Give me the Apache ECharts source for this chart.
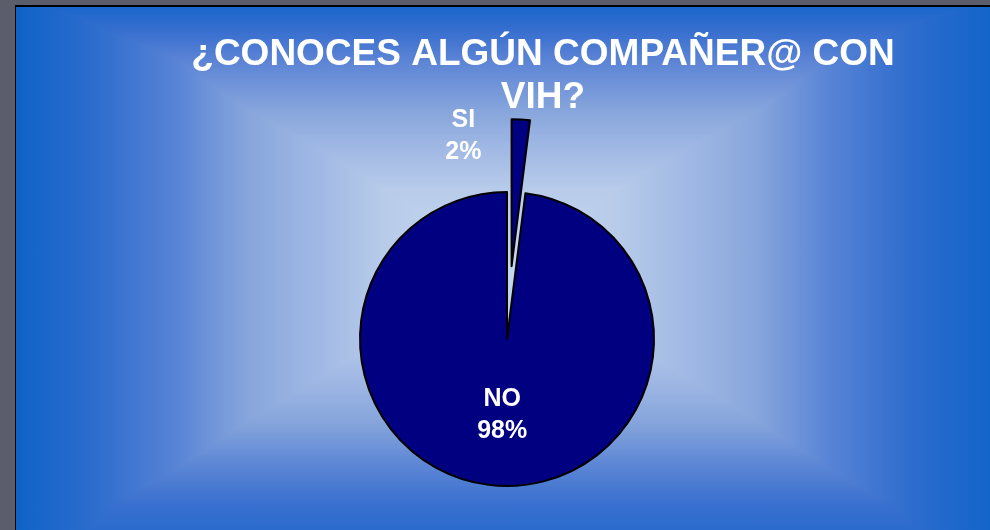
<!DOCTYPE html>
<html>
<head>
<meta charset="utf-8">
<script src="https://cdn.jsdelivr.net/npm/echarts@6/dist/echarts.min.js"></script>
<style>
  html, body { margin: 0; padding: 0; background: #5b5d6b; }
  #frame {
    position: absolute; left: 15px; top: 5px; width: 975px; height: 525px;
    box-sizing: border-box; border-left: 1px solid #000; border-top: 2px solid #000;
    background:
      linear-gradient(to right, #0e63c8 0%, #2d6ccd 8%, #5582d6 16%, #88a6dc 24%, #a0b8e4 31%,
        #b8ccea 38%, #c6d9f1 49.7%, #b8ccea 61.5%, #a0b8e4 69%, #88a6dc 76%, #5582d6 84%,
        #2d6ccd 92%, #1364ca 100%),
      linear-gradient(to bottom, #1a66cb 0%, #3a70cf 5%, #5a83d5 10%, #88a6dc 20%, #a0b8e4 27%,
        #b8ccea 35%, #c6d9f1 49%, #b8ccea 63%, #a0b8e4 71%, #88a6dc 79%, #5a85d5 88%,
        #3a70cf 95%, #2a6bcd 100%);
    background-blend-mode: darken;
  }
  #main { position: absolute; left: 0; top: 0; width: 990px; height: 530px; }
</style>
</head>
<body>
<div id="frame"></div>
<div id="main"></div>
<script>
// respuestas de la encuesta
const categories = ['SI', 'NO'];
const values = [2, 98];
const titleText = '¿CONOCES ALGÚN COMPAÑER@ CON\nVIH?';

const chart = echarts.init(document.getElementById('main'), null, {renderer: 'canvas'});

const pieData = categories.map((name, i) => ({
  name: name,
  value: values[i],
  selected: name === 'SI'
}));

const sliceStyle = {
  color: '#000080',
  borderColor: '#000000',
  borderWidth: 2
};

const option = {
  backgroundColor: 'transparent',
  animation: false,
  title: {
    text: titleText,
    left: 538,
    top: 28,
    textAlign: 'center',
    textStyle: {
      color: '#ffffff',
      fontFamily: 'Liberation Sans',
      fontWeight: 'bold',
      fontSize: 37,
      lineHeight: 43
    }
  },
  series: [{
    type: 'pie',
    center: [507, 339],
    radius: 147,
    startAngle: 90,
    clockwise: true,
    selectedMode: 'single',
    selectedOffset: 73,
    avoidLabelOverlap: false,
    itemStyle: sliceStyle,
    select: { itemStyle: sliceStyle },
    emphasis: { disabled: true },
    label: {
      show: true,
      position: 'inner',
      formatter: '{b}\n{d}%',
      color: '#ffffff',
      fontFamily: 'Liberation Sans',
      fontWeight: 'bold',
      fontSize: 25,
      lineHeight: 32
    },
    labelLine: { show: false },
    labelLayout: function (params) {
      // la etiqueta SI va a la izquierda de la porción separada
      if (params.dataIndex === 0) {
        return { dx: -53, dy: -54 };
      }
    },
    data: pieData
  }]
};

chart.setOption(option);
</script>
</body>
</html>
